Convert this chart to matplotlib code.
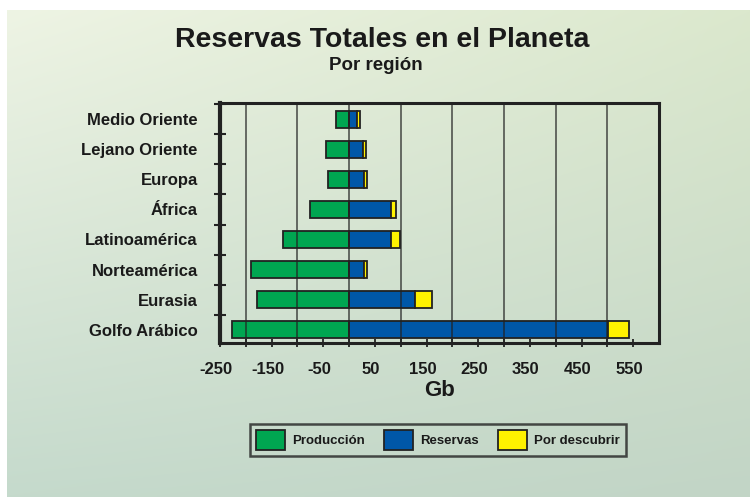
import matplotlib
matplotlib.use("Agg")
import matplotlib.pyplot as plt
import matplotlib.transforms as mtransforms
import numpy as np
from matplotlib.patches import Patch

plt.rcParams['font.family'] = ['Liberation Sans', 'DejaVu Sans']
plt.rcParams['font.weight'] = 'bold'

# data, Gb
regiones = ['Golfo Arábico', 'Eurasia', 'Norteamérica', 'Latinoamérica',
            'África', 'Europa', 'Lejano Oriente', 'Medio Oriente']
produccion = [226, 178, 190, 128, 75, 41, 44, 25]
reservas = [501, 128, 29, 81, 81, 29, 27, 15]
por_descubrir = [40, 33, 6, 17, 10, 5, 5, 6]

x_labels = [-250, -150, -50, 50, 150, 250, 350, 450, 550]
grid_x = [-200, -100, 0, 100, 200, 300, 400, 500]

GREEN = '#00a651'
BLUE = '#0057a8'
YELLOW = '#fff200'
DARK = '#222222'

fig = plt.figure(figsize=(7.5, 4.97), dpi=100)
fig.patch.set_facecolor('white')

# background gradient panel
bg = fig.add_axes([7 / 750, 0, 743 / 750, 487 / 497], zorder=-10)
tl = np.array([238, 244, 228]) / 255
tr = np.array([219, 232, 205]) / 255
bl = np.array([197, 218, 204]) / 255
br = np.array([194, 213, 198]) / 255
u = np.linspace(0, 1, 200)[None, :, None]
v = np.linspace(0, 1, 140)[:, None, None]
img = (1 - v) * ((1 - u) * tl + u * tr) + v * ((1 - u) * bl + u * br)
bg.imshow(img, aspect='auto', extent=[0, 1, 0, 1], interpolation='bilinear')
bg.axis('off')

ax = fig.add_axes([220 / 750, 1 - 343 / 497, 439 / 750, 240 / 497])
ax.set_facecolor('none')

y = np.arange(len(regiones))
h = 0.57
ax.barh(y, -np.array(produccion), height=h, color=GREEN, edgecolor=DARK, linewidth=1.3, zorder=2)
ax.barh(y, reservas, height=h, color=BLUE, edgecolor=DARK, linewidth=1.3, zorder=2)
ax.barh(y, por_descubrir, left=reservas, height=h, color=YELLOW, edgecolor=DARK, linewidth=1.3, zorder=2)

for gx in grid_x:
    ax.axvline(gx, color=DARK, linewidth=1.2, alpha=0.75, zorder=3)

ax.set_xlim(-250, 600)
ax.set_ylim(-0.45, 7.55)

ax.set_xticks(grid_x)
ax.set_xticklabels([])
ax.set_xticks(x_labels, minor=True)
ax.set_xticklabels([str(v) for v in x_labels], minor=True)
ax.tick_params(axis='x', which='both', direction='inout', length=6, width=1.3,
               color=DARK, labelsize=12, pad=11)

ax.set_yticks(np.arange(0.5, 8, 1))
ax.set_yticklabels([])
ax.set_yticks(y, minor=True)
ax.set_yticklabels(regiones, minor=True)
ax.tick_params(axis='y', which='major', direction='inout', length=9, width=1.5, color=DARK)
ax.tick_params(axis='y', which='minor', length=0, labelsize=12, pad=16)

# labels sit a little left of their ticks in the original
shift = mtransforms.ScaledTranslation(-4 / 100, 0, fig.dpi_scale_trans)
for lab in ax.get_xticklabels(minor=True):
    lab.set_transform(lab.get_transform() + shift)

for lab in ax.get_xticklabels(minor=True) + ax.get_yticklabels(minor=True):
    lab.set_fontweight('bold')
    lab.set_color('#1a1a1a')

for side in ['top', 'bottom', 'right']:
    ax.spines[side].set_linewidth(2.2)
    ax.spines[side].set_color(DARK)
ax.spines['left'].set_linewidth(3)
ax.spines['left'].set_color(DARK)

ax.set_xlabel('Gb', fontsize=16, fontweight='bold', color='#1a1a1a', labelpad=2)

fig.text(0.509, 1 - 40 / 497, 'Reservas Totales en el Planeta', ha='center', va='center',
         fontsize=20.5, fontweight='bold', color='#1a1a1a')
fig.text(0.501, 1 - 66 / 497, 'Por región', ha='center', va='center',
         fontsize=13.5, fontweight='bold', color='#1a1a1a')

handles = [Patch(facecolor=GREEN, edgecolor=DARK, linewidth=1.3, label='Producción'),
           Patch(facecolor=BLUE, edgecolor=DARK, linewidth=1.3, label='Reservas'),
           Patch(facecolor=YELLOW, edgecolor=DARK, linewidth=1.3, label='Por descubrir')]
leg = fig.legend(handles=handles, ncol=3, loc='center', bbox_to_anchor=(438 / 750, 1 - 440 / 497),
                 prop={'size': 9.5, 'weight': 'bold'}, handlelength=2.2, handleheight=2.0,
                 handletextpad=0.5, columnspacing=1.5, frameon=True, fancybox=False,
                 borderpad=0.45, borderaxespad=0)
leg.get_frame().set_edgecolor(DARK)
leg.get_frame().set_linewidth(1.8)
leg.get_frame().set_facecolor('none')
for t in leg.get_texts():
    t.set_color('#1a1a1a')

fig.savefig('out.png', dpi=100)
